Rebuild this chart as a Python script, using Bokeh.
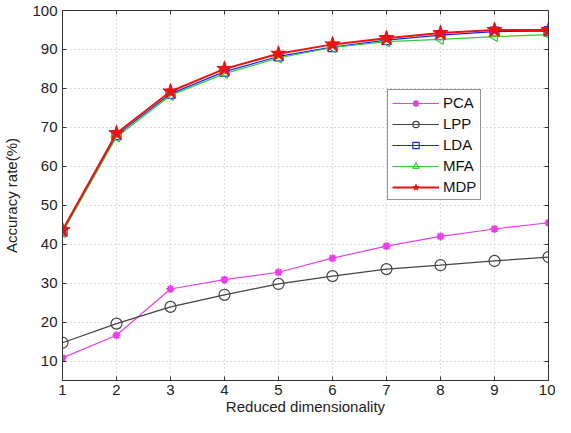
import math
from bokeh.plotting import figure
from bokeh.models import LinearAxis, FixedTicker, Range1d, Legend
from bokeh.embed import file_html
from bokeh.resources import INLINE

dims = [1, 2, 3, 4, 5, 6, 7, 8, 9, 10]
pca = [10.8, 16.6, 28.5, 30.9, 32.8, 36.4, 39.5, 42.0, 43.9, 45.5]
lpp = [14.7, 19.6, 23.9, 27.0, 29.8, 31.8, 33.6, 34.6, 35.7, 36.7]
lda = [43.3, 68.0, 78.6, 84.3, 88.2, 90.6, 92.4, 93.7, 94.6, 94.7]
mfa = [43.0, 67.5, 78.2, 83.8, 87.8, 90.5, 92.0, 92.6, 93.3, 93.8]
mdp = [43.6, 68.5, 79.2, 85.0, 88.9, 91.3, 92.9, 94.2, 95.0, 95.0]
x_ticks = [1, 2, 3, 4, 5, 6, 7, 8, 9, 10]
y_ticks = [10, 20, 30, 40, 50, 60, 70, 80, 90, 100]

FONT = "Liberation Sans"

p = figure(width=555, height=417, output_backend="svg", toolbar_location=None,
           x_range=Range1d(1, 10), y_range=Range1d(5, 100),
           min_border_left=60, min_border_right=7, min_border_top=10, min_border_bottom=36)
p.outline_line_color = "#333333"
p.outline_line_width = 1

for ax in (p.xaxis[0], p.yaxis[0]):
    ax.major_tick_in = 4
    ax.major_tick_out = 0
    ax.minor_tick_in = 0
    ax.minor_tick_out = 0
    ax.axis_line_color = "#333333"
    ax.major_tick_line_color = "#333333"
    ax.major_label_text_font = FONT
    ax.major_label_text_font_size = "15px"
    ax.major_label_text_color = "#222222"
    ax.axis_label_text_font = FONT
    ax.axis_label_text_font_size = "15px"
    ax.axis_label_text_font_style = "normal"
    ax.axis_label_text_color = "#222222"

p.xaxis.ticker = FixedTicker(ticks=x_ticks)
p.yaxis.ticker = FixedTicker(ticks=y_ticks)
p.xaxis.axis_label = "Reduced dimensionality"
p.yaxis.axis_label = "Accuracy rate(%)"
p.xaxis.axis_label_standoff = 0
p.yaxis.axis_label_standoff = 9
p.xaxis.major_label_standoff = 4
p.yaxis.major_label_standoff = 5

top = LinearAxis(ticker=FixedTicker(ticks=x_ticks),
                 major_label_overrides={t: "" for t in x_ticks},
                 major_tick_in=4, major_tick_out=0, minor_tick_in=0, minor_tick_out=0,
                 axis_line_color="#333333", major_tick_line_color="#333333")
right = LinearAxis(ticker=FixedTicker(ticks=y_ticks),
                   major_label_overrides={t: "" for t in y_ticks},
                   major_tick_in=4, major_tick_out=0, minor_tick_in=0, minor_tick_out=0,
                   axis_line_color="#333333", major_tick_line_color="#333333")
p.add_layout(top, "above")
p.add_layout(right, "right")

for g in (p.xgrid[0], p.ygrid[0]):
    g.grid_line_color = "#bbbbbb"
    g.grid_line_dash = "1 3"
    g.grid_line_width = 1
p.xgrid.ticker = FixedTicker(ticks=x_ticks)
p.ygrid.ticker = FixedTicker(ticks=y_ticks)

r1 = p.line(dims, pca, line_color="#e640e6", line_width=1.2)
s1 = p.scatter(dims, pca, marker="asterisk", size=8, line_color="#e640e6", line_width=2)
r2 = p.line(dims, lpp, line_color="#444444", line_width=1.2)
s2 = p.scatter(dims, lpp, marker="circle", size=11, line_color="#444444", fill_color=None, line_width=1.2)
r3 = p.line(dims, lda, line_color="#2222ee", line_width=1.2)
s3 = p.scatter(dims, lda, marker="square", size=9, line_color="#2222ee", fill_color=None, line_width=1.2)
r4 = p.line(dims, mfa, line_color="#33cc33", line_width=1.2)
s4 = p.scatter(dims, mfa, marker="triangle", size=10, angle=math.pi / 2, line_color="#33cc33",
               fill_color=None, line_width=1.2)
r5 = p.line(dims, mdp, line_color="#ee1111", line_width=2)
s5 = p.scatter(dims, mdp, marker="star", size=16, line_color="#ee1111", fill_color="#ee1111")

legend = Legend(items=[("PCA", [r1, s1]), ("LPP", [r2, s2]), ("LDA", [r3, s3]),
                       ("MFA", [r4, s4]), ("MDP", [r5, s5])],
                location=(325, 180))
legend.border_line_color = "#222222"
legend.border_line_width = 1
legend.background_fill_color = "white"
legend.background_fill_alpha = 1
legend.label_text_font = FONT
legend.label_text_font_size = "15px"
legend.label_text_color = "#111111"
legend.glyph_width = 47
legend.glyph_height = 16
legend.label_standoff = 4
legend.label_height = 16
legend.spacing = 4
legend.padding = 4
legend.margin = 0
p.add_layout(legend, "center")

open("out.html", "w").write(file_html(p, INLINE))
